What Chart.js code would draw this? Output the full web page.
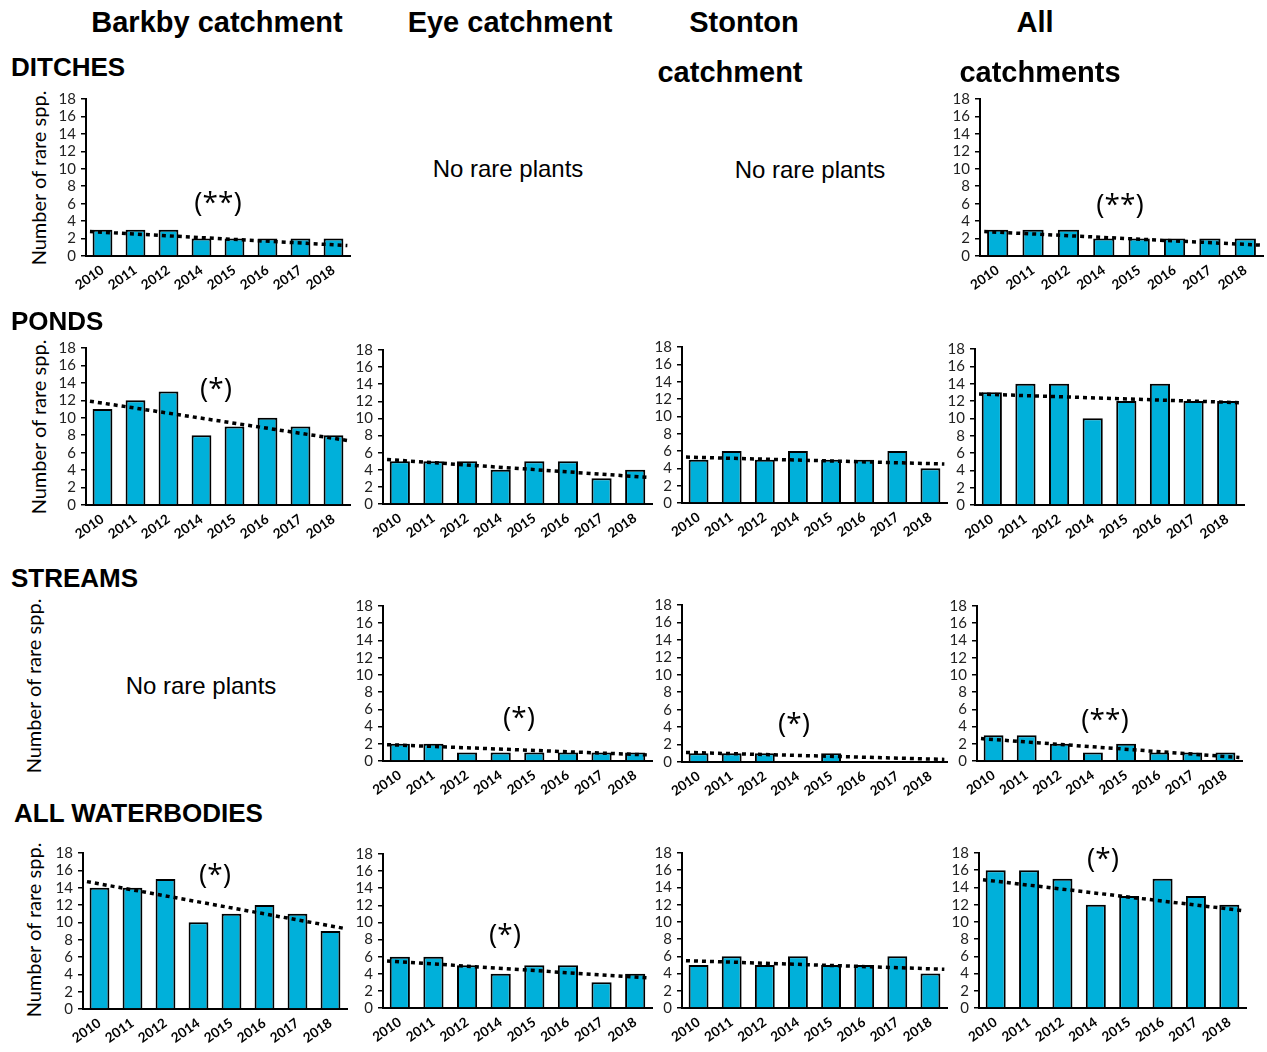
<!DOCTYPE html>
<html>
<head>
    <title>Rare plant species by waterbody and catchment</title>
    <script src="https://cdn.jsdelivr.net/npm/chart.js"></script>
    <style>
        body { margin: 0; background: #fff; }
        #wrap { position: relative; width: 1267px; height: 1052px; overflow: hidden; }
        .box { position: absolute; }
        .txt { position: absolute; white-space: nowrap; color: #000; transform: translate(-50%, -50%); }
        .head { font: bold 29px "Liberation Sans", Arial, sans-serif; }
        .row { font: bold 26px "Liberation Sans", Arial, sans-serif; transform: translate(0, -50%); }
        .none { font: 24px "Liberation Sans", Arial, sans-serif; }
        .ytitle { font: 20px Lato, "Open Sans", sans-serif; transform: translate(-50%, -50%) rotate(-90deg); }
        .sig { font: 28px "Open Sans", Lato, sans-serif; }
    </style>
</head>
<body>
    <div id="wrap"></div>
    <script>
        // years surveyed (no 2013)
        const years = ['2010', '2011', '2012', '2014', '2015', '2016', '2017', '2018'];
        const yMax = 18;
        const yStep = 2;

        // number of rare species per year
        const ditchesBarkby = [3, 3, 3, 2, 2, 2, 2, 2];
        const ditchesAll = [3, 3, 3, 2, 2, 2, 2, 2];
        const pondsBarkby = [11, 12, 13, 8, 9, 10, 9, 8];
        const pondsEye = [5, 5, 5, 4, 5, 5, 3, 4];
        const pondsStonton = [5, 6, 5, 6, 5, 5, 6, 4];
        const pondsAll = [13, 14, 14, 10, 12, 14, 12, 12];
        const streamsEye = [2, 2, 1, 1, 1, 1, 1, 1];
        const streamsStonton = [1, 1, 1, 0, 1, 0, 0, 0];
        const streamsAll = [3, 3, 2, 1, 2, 1, 1, 1];
        const allBarkby = [14, 14, 15, 10, 11, 12, 11, 9];
        const allEye = [6, 6, 5, 4, 5, 5, 3, 4];
        const allStonton = [5, 6, 5, 6, 5, 5, 6, 4];
        const allAll = [16, 16, 15, 12, 13, 15, 13, 12];

        // linear trend line, value at start and end
        const trendDitchesBarkby = [2.8, 1.2];
        const trendDitchesAll = [2.8, 1.25];
        const trendPondsBarkby = [11.9, 7.4];
        const trendPondsEye = [5.2, 3.1];
        const trendPondsStonton = [5.3, 4.5];
        const trendPondsAll = [12.8, 11.8];
        const trendStreamsEye = [1.9, 0.7];
        const trendStreamsStonton = [1.1, 0.3];
        const trendStreamsAll = [2.6, 0.4];
        const trendAllBarkby = [14.7, 9.3];
        const trendAllEye = [5.5, 3.5];
        const trendAllStonton = [5.5, 4.5];
        const trendAllAll = [14.9, 11.3];
        // trend span in category units
        const trendFrom = -0.38;
        const trendTo = 7.42;

        // panel layout: axis x, plot top, plot bottom, plot right
        const panels = [
            { data: ditchesBarkby, trend: trendDitchesBarkby, ax: 86, top: 99, bottom: 256, right: 350 },
            { data: ditchesAll, trend: trendDitchesAll, ax: 980, top: 99, bottom: 256, right: 1263 },
            { data: pondsBarkby, trend: trendPondsBarkby, ax: 86, top: 348, bottom: 505, right: 350 },
            { data: pondsEye, trend: trendPondsEye, ax: 383, top: 350, bottom: 504, right: 652 },
            { data: pondsStonton, trend: trendPondsStonton, ax: 682, top: 347, bottom: 503, right: 947 },
            { data: pondsAll, trend: trendPondsAll, ax: 975, top: 349, bottom: 505, right: 1244 },
            { data: streamsEye, trend: trendStreamsEye, ax: 383, top: 606, bottom: 761, right: 652 },
            { data: streamsStonton, trend: trendStreamsStonton, ax: 682, top: 605, bottom: 762, right: 947 },
            { data: streamsAll, trend: trendStreamsAll, ax: 977, top: 606, bottom: 761, right: 1242 },
            { data: allBarkby, trend: trendAllBarkby, ax: 83, top: 853, bottom: 1009, right: 347 },
            { data: allEye, trend: trendAllEye, ax: 383, top: 854, bottom: 1008, right: 652 },
            { data: allStonton, trend: trendAllStonton, ax: 682, top: 853, bottom: 1008, right: 947 },
            { data: allAll, trend: trendAllAll, ax: 979, top: 853, bottom: 1008, right: 1246 }
        ];

        const texts = [
            { cls: 'head', t: 'Barkby catchment', x: 217, y: 22 },
            { cls: 'head', t: 'Eye catchment', x: 510, y: 22 },
            { cls: 'head', t: 'Stonton', x: 744, y: 22 },
            { cls: 'head', t: 'catchment', x: 730, y: 72 },
            { cls: 'head', t: 'All', x: 1035, y: 22 },
            { cls: 'head', t: 'catchments', x: 1040, y: 72 },
            { cls: 'row', t: 'DITCHES', x: 11, y: 67 },
            { cls: 'row', t: 'PONDS', x: 11, y: 321 },
            { cls: 'row', t: 'STREAMS', x: 11, y: 578 },
            { cls: 'row', t: 'ALL WATERBODIES', x: 14, y: 813 },
            { cls: 'none', t: 'No rare plants', x: 508, y: 169 },
            { cls: 'none', t: 'No rare plants', x: 810, y: 170 },
            { cls: 'none', t: 'No rare plants', x: 201, y: 686 },
            { cls: 'ytitle', t: 'Number of rare spp.', x: 38, y: 178 },
            { cls: 'ytitle', t: 'Number of rare spp.', x: 38, y: 427 },
            { cls: 'ytitle', t: 'Number of rare spp.', x: 33, y: 686 },
            { cls: 'ytitle', t: 'Number of rare spp.', x: 33, y: 930 },
            { cls: 'sig', t: '(**)', x: 218, y: 201 },
            { cls: 'sig', t: '(**)', x: 1120, y: 203 },
            { cls: 'sig', t: '(*)', x: 216, y: 387 },
            { cls: 'sig', t: '(*)', x: 519, y: 716 },
            { cls: 'sig', t: '(*)', x: 794, y: 722 },
            { cls: 'sig', t: '(**)', x: 1105, y: 718 },
            { cls: 'sig', t: '(*)', x: 215, y: 873 },
            { cls: 'sig', t: '(*)', x: 505, y: 933 },
            { cls: 'sig', t: '(*)', x: 1103, y: 857 }
        ];

        const wrap = document.getElementById('wrap');
        const yW = 36, xH = 44, padT = 14, padR = 6;
        const tickFont = 'Lato, "Open Sans", sans-serif';

        panels.forEach(p => {
            const box = document.createElement('div');
            box.className = 'box';
            box.style.left = (p.ax - yW) + 'px';
            box.style.top = (p.top - padT) + 'px';
            box.style.width = (p.right - p.ax + yW + padR) + 'px';
            box.style.height = (p.bottom - p.top + padT + xH) + 'px';
            const cv = document.createElement('canvas');
            box.appendChild(cv);
            wrap.appendChild(box);

            // years sit at index positions 0..7 on a linear x axis
            const barPoints = p.data.map((v, i) => ({ x: i, y: v }));
            const trendPoints = [{ x: trendFrom, y: p.trend[0] }, { x: trendTo, y: p.trend[1] }];

            new Chart(cv.getContext('2d'), {
                type: 'bar',
                data: {
                    datasets: [{
                        type: 'bar',
                        data: barPoints,
                        backgroundColor: '#00b0da',
                        borderColor: '#000',
                        borderWidth: 2,
                        barPercentage: 0.6,
                        categoryPercentage: 1,
                        order: 1
                    }, {
                        type: 'line',
                        data: trendPoints,
                        borderColor: '#000',
                        borderWidth: 3.5,
                        borderDash: [4, 4],
                        pointRadius: 0,
                        fill: false,
                        order: 0
                    }]
                },
                options: {
                    responsive: true,
                    maintainAspectRatio: false,
                    animation: false,
                    layout: { padding: { top: padT, right: padR, left: 0, bottom: 0 } },
                    plugins: { legend: { display: false }, tooltip: { enabled: false } },
                    scales: {
                        x: {
                            type: 'linear',
                            min: -0.5,
                            max: years.length - 0.5,
                            offset: false,
                            afterBuildTicks: s => { s.ticks = years.map((y, i) => ({ value: i })); },
                            afterFit: s => { s.height = xH; },
                            grid: { display: false, drawTicks: false },
                            border: { color: '#000', width: 2 },
                            ticks: {
                                color: '#000',
                                autoSkip: false,
                                minRotation: 35,
                                maxRotation: 35,
                                padding: 6,
                                callback: v => years[v],
                                font: { family: tickFont, size: 13.5, weight: 'bold' }
                            }
                        },
                        y: {
                            min: 0,
                            max: yMax,
                            afterFit: s => { s.width = yW; },
                            grid: { drawOnChartArea: false, tickLength: 5, color: '#000', lineWidth: 1.5 },
                            border: { color: '#000', width: 2 },
                            ticks: {
                                stepSize: yStep,
                                autoSkip: false,
                                color: '#222',
                                padding: 5,
                                font: { family: tickFont, size: 15 }
                            }
                        }
                    }
                }
            });
        });

        texts.forEach(o => {
            const d = document.createElement('div');
            d.className = 'txt ' + o.cls;
            d.textContent = o.t;
            d.style.left = o.x + 'px';
            d.style.top = o.y + 'px';
            wrap.appendChild(d);
        });
    </script>
</body>
</html>
